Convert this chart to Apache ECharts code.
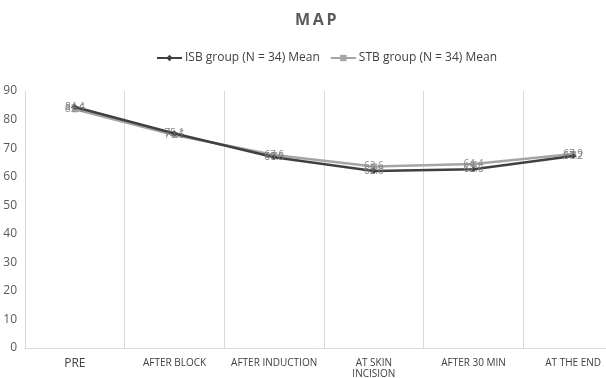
<!DOCTYPE html>
<html>
<head>
<meta charset="utf-8">
<script src="https://cdn.jsdelivr.net/npm/echarts@6/dist/echarts.min.js"></script>
<style>
  html, body { margin: 0; padding: 0; background: #fff; }
  #chart { width: 606px; height: 378px; }
</style>
</head>
<body>
<div id="chart"></div>
<script>
// Time points of the measurement
const categories = ['PRE', 'AFTER BLOCK', 'AFTER INDUCTION', 'AT SKIN\nINCISION', 'AFTER 30 MIN', 'AT THE END'];
// Mean arterial pressure, group means
const isbMean = [84.4, 75.1, 66.8, 62.0, 62.6, 67.2];
const stbMean = [83.6, 74.6, 67.6, 63.6, 64.4, 67.9];
const yTicks = [0, 10, 20, 30, 40, 50, 60, 70, 80, 90];

const font = '"Open Sans", "Noto Sans", sans-serif';
const chart = echarts.init(document.getElementById('chart'), null, { renderer: 'canvas' });

function labelCfg(color) {
  return {
    show: true,
    position: 'inside',
    fontSize: 10,
    fontFamily: font,
    color: color,
    formatter: p => p.value.toFixed(1)
  };
}

chart.setOption({
  animation: false,
  textStyle: { fontFamily: font },
  title: {
    text: 'M\u2009A\u2009P',
    left: 290,
    top: 7,
    textStyle: { fontSize: 16, fontWeight: 'bold', color: '#595959', fontFamily: font }
  },
  legend: {
    top: 47,
    left: 151,
    itemWidth: 25,
    itemHeight: 8,
    itemGap: 10,
    textStyle: { fontSize: 12, color: '#404040', fontFamily: font, padding: [0, 0, 0, -2] },
    data: ['ISB group (N = 34) Mean', 'STB group (N = 34) Mean']
  },
  // the category axis runs slightly past the right edge of the canvas
  grid: {
    left: 25, top: 91, width: 598, height: 257,
    containLabel: false,
    outerBoundsMode: 'none'
  },
  xAxis: {
    type: 'category',
    data: categories,
    boundaryGap: true,
    axisTick: { show: false },
    axisLine: { lineStyle: { color: '#d9d9d9', width: 1 } },
    splitLine: { show: true, lineStyle: { color: '#d9d9d9', width: 1 } },
    axisLabel: {
      fontSize: 10,
      color: '#404040',
      margin: 10,
      lineHeight: 11,
      interval: 0,
      fontFamily: font,
      formatter: v => v === 'PRE' ? '{big|' + v + '}' : v,
      rich: { big: { fontSize: 12, color: '#404040', fontFamily: font } }
    }
  },
  yAxis: {
    type: 'value',
    min: yTicks[0],
    max: yTicks[yTicks.length - 1],
    interval: 10,
    axisLine: { show: false },
    axisTick: { show: false },
    splitLine: { show: false },
    axisLabel: { fontSize: 12, color: '#595959', margin: 8, fontFamily: font }
  },
  series: [
    {
      name: 'ISB group (N = 34) Mean',
      type: 'line',
      data: isbMean,
      symbol: 'diamond',
      symbolSize: 6,
      color: '#404040',
      lineStyle: { width: 2.5, color: '#404040' },
      itemStyle: { color: '#404040' },
      label: labelCfg('#7f7f7f'),
      z: 3
    },
    {
      name: 'STB group (N = 34) Mean',
      type: 'line',
      data: stbMean,
      symbol: 'rect',
      symbolSize: 6,
      color: '#a5a5a5',
      lineStyle: { width: 2.5, color: '#a5a5a5' },
      itemStyle: { color: '#a5a5a5' },
      label: labelCfg('#8c8c8c'),
      z: 2
    }
  ]
});
</script>
</body>
</html>
